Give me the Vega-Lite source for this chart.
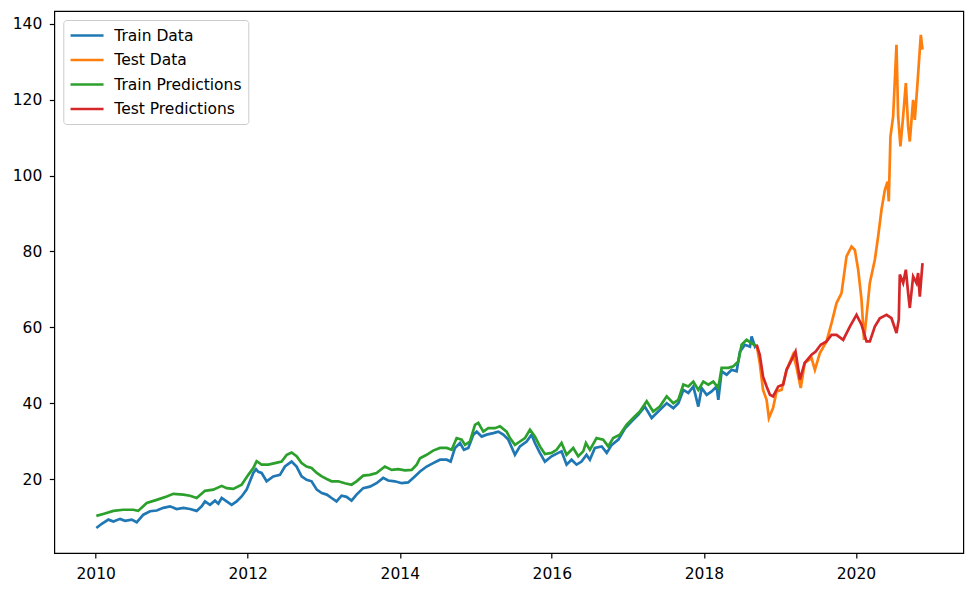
{
  "$schema": "https://vega.github.io/schema/vega-lite/v6.json",
  "width": 909,
  "height": 542,
  "autosize": {"type": "none"},
  "padding": {"left": 54.3, "top": 11, "right": 11.7, "bottom": 40},
  "background": "white",
  "config": {
    "font": "DejaVu Sans",
    "view": {"stroke": "#000000", "strokeWidth": 1.2},
    "axis": {
      "grid": false,
      "domain": false,
      "tickColor": "#000000",
      "tickSize": 5,
      "tickWidth": 1.2,
      "labelColor": "#000000",
      "labelFontSize": 15.5,
      "labelFont": "DejaVu Sans",
      "title": null
    }
  },
  "data": {
    "values": [
      {"d": "2010-01-04", "v": 7.1, "s": "Train Data"},
      {"d": "2010-01-30", "v": 8.2, "s": "Train Data"},
      {"d": "2010-03-03", "v": 9.3, "s": "Train Data"},
      {"d": "2010-03-27", "v": 8.8, "s": "Train Data"},
      {"d": "2010-04-28", "v": 9.5, "s": "Train Data"},
      {"d": "2010-05-22", "v": 9.0, "s": "Train Data"},
      {"d": "2010-06-23", "v": 9.3, "s": "Train Data"},
      {"d": "2010-07-17", "v": 8.6, "s": "Train Data"},
      {"d": "2010-08-18", "v": 10.6, "s": "Train Data"},
      {"d": "2010-09-19", "v": 11.5, "s": "Train Data"},
      {"d": "2010-10-21", "v": 11.7, "s": "Train Data"},
      {"d": "2010-11-22", "v": 12.4, "s": "Train Data"},
      {"d": "2010-12-24", "v": 12.8, "s": "Train Data"},
      {"d": "2011-01-25", "v": 12.1, "s": "Train Data"},
      {"d": "2011-02-26", "v": 12.4, "s": "Train Data"},
      {"d": "2011-03-30", "v": 12.1, "s": "Train Data"},
      {"d": "2011-05-01", "v": 11.6, "s": "Train Data"},
      {"d": "2011-05-25", "v": 12.8, "s": "Train Data"},
      {"d": "2011-06-10", "v": 14.1, "s": "Train Data"},
      {"d": "2011-07-04", "v": 13.2, "s": "Train Data"},
      {"d": "2011-07-28", "v": 14.3, "s": "Train Data"},
      {"d": "2011-08-13", "v": 13.5, "s": "Train Data"},
      {"d": "2011-08-29", "v": 15.0, "s": "Train Data"},
      {"d": "2011-09-22", "v": 14.1, "s": "Train Data"},
      {"d": "2011-10-16", "v": 13.2, "s": "Train Data"},
      {"d": "2011-11-09", "v": 14.1, "s": "Train Data"},
      {"d": "2011-12-03", "v": 15.4, "s": "Train Data"},
      {"d": "2011-12-27", "v": 17.2, "s": "Train Data"},
      {"d": "2012-01-12", "v": 19.4, "s": "Train Data"},
      {"d": "2012-01-28", "v": 21.6, "s": "Train Data"},
      {"d": "2012-02-10", "v": 22.6, "s": "Train Data"},
      {"d": "2012-02-21", "v": 21.9, "s": "Train Data"},
      {"d": "2012-03-08", "v": 21.6, "s": "Train Data"},
      {"d": "2012-04-01", "v": 19.4, "s": "Train Data"},
      {"d": "2012-05-03", "v": 20.7, "s": "Train Data"},
      {"d": "2012-06-04", "v": 21.1, "s": "Train Data"},
      {"d": "2012-06-28", "v": 23.3, "s": "Train Data"},
      {"d": "2012-07-30", "v": 24.6, "s": "Train Data"},
      {"d": "2012-08-23", "v": 23.3, "s": "Train Data"},
      {"d": "2012-09-16", "v": 20.7, "s": "Train Data"},
      {"d": "2012-10-10", "v": 19.8, "s": "Train Data"},
      {"d": "2012-11-03", "v": 19.4, "s": "Train Data"},
      {"d": "2012-11-28", "v": 17.2, "s": "Train Data"},
      {"d": "2012-12-22", "v": 16.3, "s": "Train Data"},
      {"d": "2013-01-15", "v": 15.9, "s": "Train Data"},
      {"d": "2013-02-07", "v": 15.0, "s": "Train Data"},
      {"d": "2013-03-03", "v": 14.1, "s": "Train Data"},
      {"d": "2013-03-27", "v": 15.6, "s": "Train Data"},
      {"d": "2013-04-20", "v": 15.3, "s": "Train Data"},
      {"d": "2013-05-14", "v": 14.3, "s": "Train Data"},
      {"d": "2013-06-07", "v": 15.9, "s": "Train Data"},
      {"d": "2013-07-09", "v": 17.6, "s": "Train Data"},
      {"d": "2013-08-10", "v": 18.0, "s": "Train Data"},
      {"d": "2013-09-11", "v": 18.9, "s": "Train Data"},
      {"d": "2013-10-13", "v": 20.3, "s": "Train Data"},
      {"d": "2013-11-06", "v": 19.6, "s": "Train Data"},
      {"d": "2013-12-08", "v": 19.4, "s": "Train Data"},
      {"d": "2014-01-10", "v": 18.9, "s": "Train Data"},
      {"d": "2014-02-10", "v": 19.1, "s": "Train Data"},
      {"d": "2014-03-14", "v": 20.7, "s": "Train Data"},
      {"d": "2014-04-08", "v": 22.0, "s": "Train Data"},
      {"d": "2014-05-10", "v": 23.3, "s": "Train Data"},
      {"d": "2014-06-10", "v": 24.2, "s": "Train Data"},
      {"d": "2014-07-13", "v": 25.1, "s": "Train Data"},
      {"d": "2014-08-14", "v": 25.1, "s": "Train Data"},
      {"d": "2014-09-02", "v": 24.6, "s": "Train Data"},
      {"d": "2014-09-23", "v": 28.2, "s": "Train Data"},
      {"d": "2014-10-17", "v": 29.5, "s": "Train Data"},
      {"d": "2014-11-05", "v": 27.7, "s": "Train Data"},
      {"d": "2014-11-26", "v": 28.2, "s": "Train Data"},
      {"d": "2014-12-20", "v": 31.7, "s": "Train Data"},
      {"d": "2015-01-05", "v": 32.5, "s": "Train Data"},
      {"d": "2015-01-29", "v": 31.2, "s": "Train Data"},
      {"d": "2015-02-22", "v": 31.7, "s": "Train Data"},
      {"d": "2015-03-26", "v": 32.1, "s": "Train Data"},
      {"d": "2015-04-19", "v": 32.5, "s": "Train Data"},
      {"d": "2015-05-13", "v": 31.7, "s": "Train Data"},
      {"d": "2015-06-06", "v": 30.4, "s": "Train Data"},
      {"d": "2015-07-08", "v": 26.4, "s": "Train Data"},
      {"d": "2015-08-01", "v": 28.6, "s": "Train Data"},
      {"d": "2015-09-02", "v": 29.9, "s": "Train Data"},
      {"d": "2015-09-26", "v": 31.7, "s": "Train Data"},
      {"d": "2015-10-12", "v": 29.5, "s": "Train Data"},
      {"d": "2015-11-05", "v": 26.9, "s": "Train Data"},
      {"d": "2015-11-29", "v": 24.6, "s": "Train Data"},
      {"d": "2015-12-31", "v": 26.0, "s": "Train Data"},
      {"d": "2016-02-01", "v": 26.9, "s": "Train Data"},
      {"d": "2016-02-17", "v": 27.3, "s": "Train Data"},
      {"d": "2016-03-12", "v": 23.8, "s": "Train Data"},
      {"d": "2016-04-05", "v": 25.1, "s": "Train Data"},
      {"d": "2016-04-29", "v": 23.8, "s": "Train Data"},
      {"d": "2016-05-23", "v": 24.6, "s": "Train Data"},
      {"d": "2016-06-16", "v": 26.4, "s": "Train Data"},
      {"d": "2016-07-02", "v": 25.1, "s": "Train Data"},
      {"d": "2016-07-26", "v": 28.2, "s": "Train Data"},
      {"d": "2016-08-28", "v": 28.6, "s": "Train Data"},
      {"d": "2016-09-21", "v": 26.9, "s": "Train Data"},
      {"d": "2016-10-15", "v": 29.0, "s": "Train Data"},
      {"d": "2016-11-16", "v": 30.4, "s": "Train Data"},
      {"d": "2016-12-18", "v": 33.4, "s": "Train Data"},
      {"d": "2017-01-19", "v": 35.2, "s": "Train Data"},
      {"d": "2017-02-19", "v": 36.9, "s": "Train Data"},
      {"d": "2017-03-23", "v": 39.1, "s": "Train Data"},
      {"d": "2017-04-25", "v": 36.1, "s": "Train Data"},
      {"d": "2017-05-19", "v": 37.4, "s": "Train Data"},
      {"d": "2017-06-12", "v": 38.7, "s": "Train Data"},
      {"d": "2017-07-06", "v": 40.0, "s": "Train Data"},
      {"d": "2017-08-07", "v": 38.7, "s": "Train Data"},
      {"d": "2017-08-31", "v": 40.0, "s": "Train Data"},
      {"d": "2017-09-24", "v": 43.5, "s": "Train Data"},
      {"d": "2017-10-18", "v": 42.7, "s": "Train Data"},
      {"d": "2017-11-11", "v": 44.4, "s": "Train Data"},
      {"d": "2017-12-05", "v": 39.1, "s": "Train Data"},
      {"d": "2017-12-21", "v": 44.0, "s": "Train Data"},
      {"d": "2018-01-14", "v": 42.2, "s": "Train Data"},
      {"d": "2018-02-07", "v": 43.1, "s": "Train Data"},
      {"d": "2018-03-03", "v": 44.4, "s": "Train Data"},
      {"d": "2018-03-11", "v": 40.9, "s": "Train Data"},
      {"d": "2018-03-27", "v": 48.4, "s": "Train Data"},
      {"d": "2018-04-20", "v": 47.5, "s": "Train Data"},
      {"d": "2018-05-14", "v": 48.8, "s": "Train Data"},
      {"d": "2018-06-07", "v": 48.4, "s": "Train Data"},
      {"d": "2018-06-23", "v": 53.6, "s": "Train Data"},
      {"d": "2018-07-17", "v": 55.4, "s": "Train Data"},
      {"d": "2018-08-10", "v": 54.9, "s": "Train Data"},
      {"d": "2018-08-18", "v": 57.6, "s": "Train Data"},
      {"d": "2018-09-03", "v": 54.9, "s": "Train Data"},
      {"d": "2018-09-11", "v": 55.4, "s": "Train Data"},

      {"d": "2018-09-11", "v": 55.4, "s": "Test Data"},
      {"d": "2018-09-26", "v": 50.6, "s": "Test Data"},
      {"d": "2018-10-12", "v": 43.5, "s": "Test Data"},
      {"d": "2018-10-29", "v": 40.9, "s": "Test Data"},
      {"d": "2018-11-09", "v": 36.1, "s": "Test Data"},
      {"d": "2018-11-29", "v": 38.7, "s": "Test Data"},
      {"d": "2018-12-16", "v": 43.1, "s": "Test Data"},
      {"d": "2019-01-09", "v": 43.5, "s": "Test Data"},
      {"d": "2019-02-02", "v": 48.8, "s": "Test Data"},
      {"d": "2019-03-05", "v": 52.8, "s": "Test Data"},
      {"d": "2019-03-21", "v": 49.7, "s": "Test Data"},
      {"d": "2019-04-11", "v": 44.0, "s": "Test Data"},
      {"d": "2019-04-30", "v": 50.6, "s": "Test Data"},
      {"d": "2019-06-02", "v": 51.9, "s": "Test Data"},
      {"d": "2019-06-18", "v": 48.8, "s": "Test Data"},
      {"d": "2019-07-12", "v": 53.2, "s": "Test Data"},
      {"d": "2019-08-13", "v": 56.3, "s": "Test Data"},
      {"d": "2019-09-06", "v": 61.1, "s": "Test Data"},
      {"d": "2019-09-30", "v": 66.4, "s": "Test Data"},
      {"d": "2019-10-24", "v": 69.0, "s": "Test Data"},
      {"d": "2019-11-17", "v": 78.7, "s": "Test Data"},
      {"d": "2019-12-11", "v": 81.3, "s": "Test Data"},
      {"d": "2019-12-27", "v": 80.4, "s": "Test Data"},
      {"d": "2020-01-12", "v": 75.2, "s": "Test Data"},
      {"d": "2020-01-28", "v": 67.3, "s": "Test Data"},
      {"d": "2020-02-09", "v": 56.7, "s": "Test Data"},
      {"d": "2020-02-21", "v": 62.9, "s": "Test Data"},
      {"d": "2020-03-08", "v": 71.7, "s": "Test Data"},
      {"d": "2020-04-01", "v": 77.8, "s": "Test Data"},
      {"d": "2020-04-17", "v": 84.0, "s": "Test Data"},
      {"d": "2020-05-03", "v": 91.0, "s": "Test Data"},
      {"d": "2020-05-19", "v": 96.2, "s": "Test Data"},
      {"d": "2020-06-01", "v": 98.4, "s": "Test Data"},
      {"d": "2020-06-07", "v": 93.2, "s": "Test Data"},
      {"d": "2020-06-15", "v": 110.3, "s": "Test Data"},
      {"d": "2020-06-28", "v": 115.6, "s": "Test Data"},
      {"d": "2020-07-14", "v": 134.5, "s": "Test Data"},
      {"d": "2020-07-22", "v": 115.6, "s": "Test Data"},
      {"d": "2020-08-02", "v": 107.7, "s": "Test Data"},
      {"d": "2020-08-15", "v": 115.6, "s": "Test Data"},
      {"d": "2020-08-28", "v": 124.4, "s": "Test Data"},
      {"d": "2020-09-08", "v": 112.9, "s": "Test Data"},
      {"d": "2020-09-16", "v": 109.0, "s": "Test Data"},
      {"d": "2020-10-02", "v": 120.0, "s": "Test Data"},
      {"d": "2020-10-10", "v": 114.7, "s": "Test Data"},
      {"d": "2020-10-23", "v": 124.4, "s": "Test Data"},
      {"d": "2020-11-03", "v": 133.2, "s": "Test Data"},
      {"d": "2020-11-08", "v": 137.1, "s": "Test Data"},
      {"d": "2020-11-16", "v": 133.2, "s": "Test Data"},

      {"d": "2010-01-04", "v": 10.3, "s": "Train Predictions"},
      {"d": "2010-02-06", "v": 10.8, "s": "Train Predictions"},
      {"d": "2010-03-27", "v": 11.6, "s": "Train Predictions"},
      {"d": "2010-05-13", "v": 11.9, "s": "Train Predictions"},
      {"d": "2010-06-30", "v": 11.9, "s": "Train Predictions"},
      {"d": "2010-07-24", "v": 11.6, "s": "Train Predictions"},
      {"d": "2010-09-03", "v": 13.7, "s": "Train Predictions"},
      {"d": "2010-10-21", "v": 14.5, "s": "Train Predictions"},
      {"d": "2010-12-08", "v": 15.4, "s": "Train Predictions"},
      {"d": "2011-01-09", "v": 16.1, "s": "Train Predictions"},
      {"d": "2011-02-26", "v": 15.9, "s": "Train Predictions"},
      {"d": "2011-03-30", "v": 15.6, "s": "Train Predictions"},
      {"d": "2011-05-01", "v": 15.0, "s": "Train Predictions"},
      {"d": "2011-06-10", "v": 16.9, "s": "Train Predictions"},
      {"d": "2011-07-20", "v": 17.2, "s": "Train Predictions"},
      {"d": "2011-08-29", "v": 18.2, "s": "Train Predictions"},
      {"d": "2011-09-22", "v": 17.6, "s": "Train Predictions"},
      {"d": "2011-10-24", "v": 17.4, "s": "Train Predictions"},
      {"d": "2011-12-03", "v": 18.5, "s": "Train Predictions"},
      {"d": "2012-01-04", "v": 21.1, "s": "Train Predictions"},
      {"d": "2012-01-28", "v": 22.9, "s": "Train Predictions"},
      {"d": "2012-02-13", "v": 24.7, "s": "Train Predictions"},
      {"d": "2012-03-08", "v": 23.8, "s": "Train Predictions"},
      {"d": "2012-04-09", "v": 23.8, "s": "Train Predictions"},
      {"d": "2012-05-11", "v": 24.2, "s": "Train Predictions"},
      {"d": "2012-06-12", "v": 24.6, "s": "Train Predictions"},
      {"d": "2012-07-07", "v": 26.4, "s": "Train Predictions"},
      {"d": "2012-07-30", "v": 27.0, "s": "Train Predictions"},
      {"d": "2012-08-23", "v": 26.0, "s": "Train Predictions"},
      {"d": "2012-09-16", "v": 24.2, "s": "Train Predictions"},
      {"d": "2012-10-10", "v": 23.3, "s": "Train Predictions"},
      {"d": "2012-11-03", "v": 22.9, "s": "Train Predictions"},
      {"d": "2012-11-28", "v": 21.6, "s": "Train Predictions"},
      {"d": "2012-12-22", "v": 20.7, "s": "Train Predictions"},
      {"d": "2013-01-15", "v": 20.0, "s": "Train Predictions"},
      {"d": "2013-02-07", "v": 19.4, "s": "Train Predictions"},
      {"d": "2013-03-11", "v": 19.4, "s": "Train Predictions"},
      {"d": "2013-04-12", "v": 18.9, "s": "Train Predictions"},
      {"d": "2013-05-14", "v": 18.5, "s": "Train Predictions"},
      {"d": "2013-06-07", "v": 19.4, "s": "Train Predictions"},
      {"d": "2013-07-09", "v": 20.9, "s": "Train Predictions"},
      {"d": "2013-08-10", "v": 21.1, "s": "Train Predictions"},
      {"d": "2013-09-11", "v": 21.6, "s": "Train Predictions"},
      {"d": "2013-10-21", "v": 23.3, "s": "Train Predictions"},
      {"d": "2013-11-23", "v": 22.4, "s": "Train Predictions"},
      {"d": "2013-12-24", "v": 22.6, "s": "Train Predictions"},
      {"d": "2014-01-26", "v": 22.3, "s": "Train Predictions"},
      {"d": "2014-02-27", "v": 22.4, "s": "Train Predictions"},
      {"d": "2014-03-23", "v": 23.8, "s": "Train Predictions"},
      {"d": "2014-04-08", "v": 25.5, "s": "Train Predictions"},
      {"d": "2014-05-10", "v": 26.4, "s": "Train Predictions"},
      {"d": "2014-06-10", "v": 27.5, "s": "Train Predictions"},
      {"d": "2014-07-13", "v": 28.2, "s": "Train Predictions"},
      {"d": "2014-08-14", "v": 28.2, "s": "Train Predictions"},
      {"d": "2014-09-07", "v": 27.7, "s": "Train Predictions"},
      {"d": "2014-10-01", "v": 30.8, "s": "Train Predictions"},
      {"d": "2014-10-25", "v": 30.4, "s": "Train Predictions"},
      {"d": "2014-11-10", "v": 29.0, "s": "Train Predictions"},
      {"d": "2014-12-04", "v": 29.9, "s": "Train Predictions"},
      {"d": "2014-12-28", "v": 34.3, "s": "Train Predictions"},
      {"d": "2015-01-13", "v": 34.8, "s": "Train Predictions"},
      {"d": "2015-02-06", "v": 32.5, "s": "Train Predictions"},
      {"d": "2015-03-02", "v": 33.4, "s": "Train Predictions"},
      {"d": "2015-04-03", "v": 33.4, "s": "Train Predictions"},
      {"d": "2015-04-27", "v": 33.9, "s": "Train Predictions"},
      {"d": "2015-05-29", "v": 32.5, "s": "Train Predictions"},
      {"d": "2015-06-14", "v": 30.8, "s": "Train Predictions"},
      {"d": "2015-07-08", "v": 29.0, "s": "Train Predictions"},
      {"d": "2015-08-01", "v": 29.9, "s": "Train Predictions"},
      {"d": "2015-08-25", "v": 30.8, "s": "Train Predictions"},
      {"d": "2015-09-18", "v": 33.0, "s": "Train Predictions"},
      {"d": "2015-10-12", "v": 31.2, "s": "Train Predictions"},
      {"d": "2015-11-05", "v": 28.6, "s": "Train Predictions"},
      {"d": "2015-11-29", "v": 26.6, "s": "Train Predictions"},
      {"d": "2015-12-31", "v": 26.9, "s": "Train Predictions"},
      {"d": "2016-01-24", "v": 27.7, "s": "Train Predictions"},
      {"d": "2016-02-17", "v": 29.5, "s": "Train Predictions"},
      {"d": "2016-03-12", "v": 26.4, "s": "Train Predictions"},
      {"d": "2016-04-13", "v": 28.2, "s": "Train Predictions"},
      {"d": "2016-05-07", "v": 26.0, "s": "Train Predictions"},
      {"d": "2016-05-31", "v": 27.3, "s": "Train Predictions"},
      {"d": "2016-06-13", "v": 29.5, "s": "Train Predictions"},
      {"d": "2016-07-02", "v": 27.7, "s": "Train Predictions"},
      {"d": "2016-08-03", "v": 30.8, "s": "Train Predictions"},
      {"d": "2016-09-04", "v": 30.4, "s": "Train Predictions"},
      {"d": "2016-09-28", "v": 28.6, "s": "Train Predictions"},
      {"d": "2016-10-22", "v": 30.8, "s": "Train Predictions"},
      {"d": "2016-11-23", "v": 31.7, "s": "Train Predictions"},
      {"d": "2016-12-25", "v": 34.3, "s": "Train Predictions"},
      {"d": "2017-01-26", "v": 36.1, "s": "Train Predictions"},
      {"d": "2017-02-27", "v": 37.8, "s": "Train Predictions"},
      {"d": "2017-04-01", "v": 40.5, "s": "Train Predictions"},
      {"d": "2017-05-02", "v": 37.8, "s": "Train Predictions"},
      {"d": "2017-06-03", "v": 39.1, "s": "Train Predictions"},
      {"d": "2017-07-06", "v": 41.8, "s": "Train Predictions"},
      {"d": "2017-08-07", "v": 40.0, "s": "Train Predictions"},
      {"d": "2017-08-31", "v": 40.9, "s": "Train Predictions"},
      {"d": "2017-09-24", "v": 44.9, "s": "Train Predictions"},
      {"d": "2017-10-18", "v": 44.4, "s": "Train Predictions"},
      {"d": "2017-11-11", "v": 45.7, "s": "Train Predictions"},
      {"d": "2017-12-05", "v": 43.5, "s": "Train Predictions"},
      {"d": "2017-12-29", "v": 45.7, "s": "Train Predictions"},
      {"d": "2018-01-22", "v": 44.9, "s": "Train Predictions"},
      {"d": "2018-02-15", "v": 45.7, "s": "Train Predictions"},
      {"d": "2018-03-11", "v": 44.0, "s": "Train Predictions"},
      {"d": "2018-03-27", "v": 49.3, "s": "Train Predictions"},
      {"d": "2018-04-28", "v": 49.3, "s": "Train Predictions"},
      {"d": "2018-05-22", "v": 49.7, "s": "Train Predictions"},
      {"d": "2018-06-15", "v": 51.0, "s": "Train Predictions"},
      {"d": "2018-07-01", "v": 55.4, "s": "Train Predictions"},
      {"d": "2018-07-25", "v": 56.7, "s": "Train Predictions"},
      {"d": "2018-08-18", "v": 55.8, "s": "Train Predictions"},
      {"d": "2018-09-06", "v": 55.2, "s": "Train Predictions"},
      {"d": "2018-09-11", "v": 55.4, "s": "Train Predictions"},

      {"d": "2018-09-11", "v": 55.4, "s": "Test Predictions"},
      {"d": "2018-09-26", "v": 52.8, "s": "Test Predictions"},
      {"d": "2018-10-12", "v": 47.0, "s": "Test Predictions"},
      {"d": "2018-10-29", "v": 44.4, "s": "Test Predictions"},
      {"d": "2018-11-14", "v": 42.2, "s": "Test Predictions"},
      {"d": "2018-11-29", "v": 41.8, "s": "Test Predictions"},
      {"d": "2018-12-24", "v": 44.4, "s": "Test Predictions"},
      {"d": "2019-01-17", "v": 44.9, "s": "Test Predictions"},
      {"d": "2019-02-02", "v": 48.8, "s": "Test Predictions"},
      {"d": "2019-02-26", "v": 51.4, "s": "Test Predictions"},
      {"d": "2019-03-17", "v": 53.6, "s": "Test Predictions"},
      {"d": "2019-04-07", "v": 46.2, "s": "Test Predictions"},
      {"d": "2019-04-30", "v": 50.6, "s": "Test Predictions"},
      {"d": "2019-06-02", "v": 52.8, "s": "Test Predictions"},
      {"d": "2019-06-22", "v": 53.6, "s": "Test Predictions"},
      {"d": "2019-07-16", "v": 55.4, "s": "Test Predictions"},
      {"d": "2019-08-13", "v": 56.3, "s": "Test Predictions"},
      {"d": "2019-09-06", "v": 58.0, "s": "Test Predictions"},
      {"d": "2019-09-30", "v": 58.0, "s": "Test Predictions"},
      {"d": "2019-11-01", "v": 56.7, "s": "Test Predictions"},
      {"d": "2019-12-03", "v": 60.2, "s": "Test Predictions"},
      {"d": "2020-01-04", "v": 63.3, "s": "Test Predictions"},
      {"d": "2020-01-28", "v": 60.7, "s": "Test Predictions"},
      {"d": "2020-02-21", "v": 56.3, "s": "Test Predictions"},
      {"d": "2020-03-08", "v": 56.3, "s": "Test Predictions"},
      {"d": "2020-04-01", "v": 60.2, "s": "Test Predictions"},
      {"d": "2020-04-25", "v": 62.4, "s": "Test Predictions"},
      {"d": "2020-05-27", "v": 63.3, "s": "Test Predictions"},
      {"d": "2020-06-20", "v": 62.4, "s": "Test Predictions"},
      {"d": "2020-07-14", "v": 58.5, "s": "Test Predictions"},
      {"d": "2020-07-25", "v": 62.0, "s": "Test Predictions"},
      {"d": "2020-07-30", "v": 73.9, "s": "Test Predictions"},
      {"d": "2020-08-15", "v": 71.7, "s": "Test Predictions"},
      {"d": "2020-08-28", "v": 75.2, "s": "Test Predictions"},
      {"d": "2020-09-08", "v": 69.0, "s": "Test Predictions"},
      {"d": "2020-09-16", "v": 65.1, "s": "Test Predictions"},
      {"d": "2020-10-02", "v": 73.4, "s": "Test Predictions"},
      {"d": "2020-10-18", "v": 71.7, "s": "Test Predictions"},
      {"d": "2020-10-26", "v": 74.3, "s": "Test Predictions"},
      {"d": "2020-11-03", "v": 68.1, "s": "Test Predictions"},
      {"d": "2020-11-16", "v": 76.9, "s": "Test Predictions"}
    ]
  },
  "encoding": {
    "x": {
      "field": "d",
      "type": "temporal",
      "scale": {"domain": [{"year": 2009, "month": 6, "date": 16}, {"year": 2021, "month": 5, "date": 31}], "nice": false},
      "axis": {
        "values": [{"year": 2010}, {"year": 2012}, {"year": 2014}, {"year": 2016}, {"year": 2018}, {"year": 2020}],
        "format": "%Y",
        "labelPadding": 8,
        "labelFlush": false,
        "labelOverlap": false
      }
    },
    "y": {
      "field": "v",
      "type": "quantitative",
      "scale": {"domain": [0.5, 143.4], "nice": false, "zero": false},
      "axis": {"values": [20, 40, 60, 80, 100, 120, 140], "labelPadding": 7.5}
    },
    "color": {
      "field": "s",
      "type": "nominal",
      "scale": {
        "domain": ["Train Data", "Test Data", "Train Predictions", "Test Predictions"],
        "range": ["#1f77b4", "#ff7f0e", "#2ca02c", "#d62728"]
      },
      "legend": {
        "title": null,
        "orient": "top-left",
        "offset": 8.5,
        "padding": 6,
        "fillColor": "rgba(255,255,255,0.8)",
        "strokeColor": "#cccccc",
        "cornerRadius": 3,
        "symbolType": "M-1,0H3",
        "symbolSize": 272,
        "symbolStrokeWidth": 2.5,
        "labelFontSize": 15.5,
        "labelFont": "DejaVu Sans",
        "labelColor": "#000000",
        "labelOffset": 26,
        "rowPadding": 6.5,
        "labelLimit": 300
      }
    }
  },
  "layer": [
    {"transform": [{"filter": "datum.s === 'Train Data'"}], "mark": {"type": "line", "strokeWidth": 2.7}},
    {"transform": [{"filter": "datum.s === 'Test Data'"}], "mark": {"type": "line", "strokeWidth": 2.7}},
    {"transform": [{"filter": "datum.s === 'Train Predictions'"}], "mark": {"type": "line", "strokeWidth": 2.7}},
    {"transform": [{"filter": "datum.s === 'Test Predictions'"}], "mark": {"type": "line", "strokeWidth": 2.7}}
  ]
}
